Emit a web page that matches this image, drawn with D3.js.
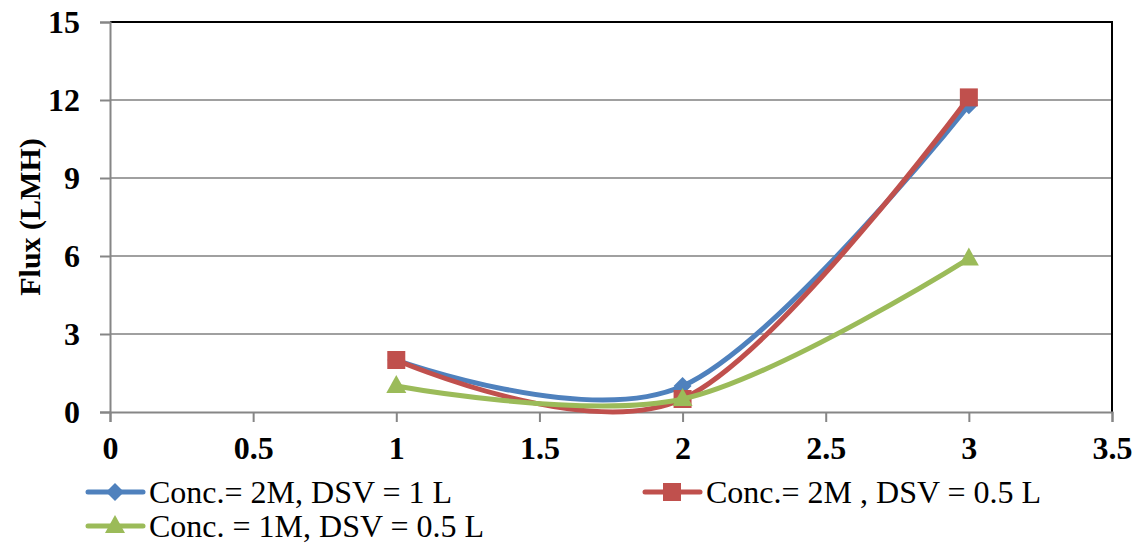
<!DOCTYPE html>
<html>
<head>
<meta charset="utf-8">
<script src="https://cdn.jsdelivr.net/npm/d3@7"></script>
<style>
  html, body { margin: 0; padding: 0; background: #fff; }
  svg { display: block; font-family: "Liberation Serif", "Times New Roman", serif; }
</style>
</head>
<body>
<svg id="chart" width="1140" height="543"></svg>
<script>
// Draw-solution concentration / volume trials: flux vs. run
const xValues = [1, 2, 3];
const fluxBlue = [2.0, 1.0, 11.8];   // Conc.= 2M, DSV = 1 L
const fluxRed = [2.0, 0.5, 12.1];    // Conc.= 2M , DSV = 0.5 L
const fluxGreen = [1.0, 0.5, 5.9];   // Conc. = 1M, DSV = 0.5 L
const seriesNames = ["Conc.= 2M, DSV = 1 L", "Conc.= 2M , DSV = 0.5 L", "Conc. = 1M, DSV = 0.5 L"];
const xTicks = [0, 0.5, 1, 1.5, 2, 2.5, 3, 3.5];
const yTicks = [0, 3, 6, 9, 12, 15];

const series = [
  { name: seriesNames[0], values: fluxBlue, color: "#4F81BD", marker: "diamond" },
  { name: seriesNames[1], values: fluxRed, color: "#C0504D", marker: "square" },
  { name: seriesNames[2], values: fluxGreen, color: "#9BBB59", marker: "triangle" }
];

const svg = d3.select("#chart");
const plot = { left: 110, right: 1112, top: 22, bottom: 412 };

const x = d3.scaleLinear().domain([0, 3.5]).range([plot.left, plot.right]);
const y = d3.scaleLinear().domain([0, 15]).range([plot.bottom, plot.top]);

// horizontal gridlines
svg.append("g").selectAll("line").data(yTicks.filter(d => d > 0 && d < 15)).join("line")
  .attr("x1", plot.left).attr("x2", plot.right)
  .attr("y1", d => y(d)).attr("y2", d => y(d))
  .attr("stroke", "#a0a0a0").attr("stroke-width", 2);

// plot-area border (top and right)
svg.append("path")
  .attr("d", `M${plot.left},${plot.top}H${plot.right}V${plot.bottom}`)
  .attr("fill", "none").attr("stroke", "#000").attr("stroke-width", 2);

// y axis
const yAxis = svg.append("g").attr("transform", `translate(${plot.left},0)`)
  .call(d3.axisLeft(y).tickValues(yTicks).tickSize(10).tickPadding(20).tickFormat(d3.format("d")));
yAxis.select(".domain").attr("stroke", "#868686").attr("stroke-width", 2);
yAxis.selectAll(".tick line").attr("stroke", "#868686").attr("stroke-width", 2);
yAxis.selectAll(".tick text")
  .attr("font-family", "Liberation Serif").attr("font-size", 32).attr("font-weight", "bold").attr("fill", "#000");

// x axis
const xAxis = svg.append("g").attr("transform", `translate(0,${plot.bottom})`)
  .call(d3.axisBottom(x).tickValues(xTicks).tickSize(10).tickPadding(14).tickFormat(d => String(d)));
xAxis.select(".domain").attr("stroke", "#868686").attr("stroke-width", 2);
xAxis.selectAll(".tick line").attr("stroke", "#868686").attr("stroke-width", 2);
xAxis.selectAll(".tick text")
  .attr("font-family", "Liberation Serif").attr("font-size", 32).attr("font-weight", "bold").attr("fill", "#000");

// y axis title
svg.append("text")
  .attr("transform", `translate(40,${(plot.top + plot.bottom) / 2}) rotate(-90)`)
  .attr("text-anchor", "middle")
  .attr("font-size", 30).attr("font-weight", "bold")
  .text("Flux (LMH)");

const line = d3.line()
  .x(d => x(d[0])).y(d => y(d[1]))
  .curve(d3.curveCardinal.tension(0));

function drawMarker(g, type, color, cx, cy) {
  if (type === "diamond") {
    g.append("path").attr("d", "M0,-9L9,0L0,9L-9,0Z")
      .attr("transform", `translate(${cx},${cy})`).attr("fill", color);
  } else if (type === "square") {
    g.append("rect").attr("x", cx - 9).attr("y", cy - 9).attr("width", 18).attr("height", 18)
      .attr("fill", color);
  } else {
    g.append("path").attr("d", "M0,-11L10,7L-10,7Z")
      .attr("transform", `translate(${cx},${cy})`).attr("fill", color);
  }
}

series.forEach(s => {
  const g = svg.append("g");
  const pts = xValues.map((xv, i) => [xv, s.values[i]]);
  g.append("path").datum(pts).attr("d", line)
    .attr("fill", "none").attr("stroke", s.color).attr("stroke-width", 5)
    .attr("stroke-linejoin", "round").attr("stroke-linecap", "round");
  pts.forEach(p => drawMarker(g, s.marker, s.color, x(p[0]), y(p[1])));
});

// legend
const legendPos = [[88, 492], [645, 492], [88, 526]];
series.forEach((s, i) => {
  const [lx, ly] = legendPos[i];
  const g = svg.append("g");
  g.append("line").attr("x1", lx).attr("x2", lx + 55).attr("y1", ly).attr("y2", ly)
    .attr("stroke", s.color).attr("stroke-width", 5).attr("stroke-linecap", "round");
  drawMarker(g, s.marker, s.color, lx + 27, ly);
  g.append("text").attr("x", lx + 61).attr("y", ly + 11)
    .attr("font-size", 32).attr("fill", "#000").text(s.name);
});
</script>
</body>
</html>
